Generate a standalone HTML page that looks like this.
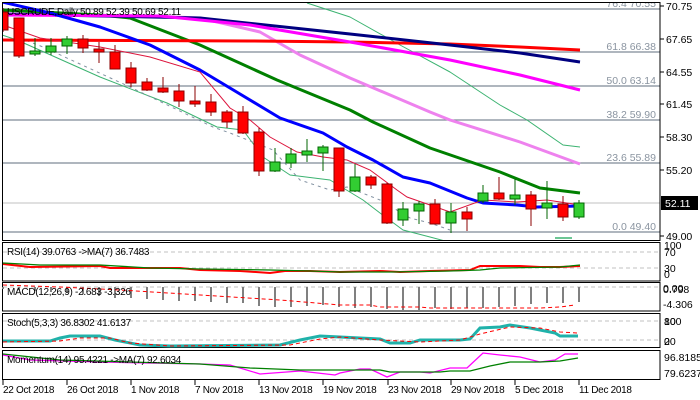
<!DOCTYPE html>
<html><head><meta charset="utf-8"><style>
body{margin:0;background:#fff}
svg{display:block;font-family:"Liberation Sans",sans-serif;font-size:10.5px}
.ax{fill:#000}
.fib{fill:#8a94a0;text-anchor:end}
.pl{font-size:10px;letter-spacing:-0.3px}
</style></head><body>
<svg width="700" height="400" viewBox="0 0 700 400" xmlns="http://www.w3.org/2000/svg">
<defs>
<clipPath id="cm"><rect x="2" y="2" width="658" height="238"/></clipPath>
<clipPath id="cl"><rect x="2" y="241" width="658" height="140"/></clipPath>
</defs>
<rect width="700" height="400" fill="#fff"/>
<g clip-path="url(#cm)">
<g stroke="#7f8b96" stroke-width="1.2">
<line x1="2" y1="9" x2="660" y2="9"/><line x1="2" y1="52" x2="660" y2="52"/>
<line x1="2" y1="86" x2="660" y2="86"/><line x1="2" y1="120" x2="660" y2="120"/>
<line x1="2" y1="163" x2="660" y2="163"/><line x1="2" y1="232" x2="660" y2="232"/>
</g>
<line x1="2" y1="203" x2="660" y2="203" stroke="#c0c0c0"/>
<g class="fib">
<text x="656" y="7">76.4 70.55</text><text x="656" y="50">61.8 66.38</text>
<text x="656" y="84">50.0 63.14</text><text x="656" y="118">38.2 59.90</text>
<text x="656" y="161">23.6 55.89</text><text x="656" y="230">0.0 49.40</text>
</g>
<g fill="none" stroke-linejoin="round">
<polyline stroke="#3cb371" points="307,3 350,17 400,45 450,72 500,105 527,120 563,145 580,147"/>
<polyline stroke="#3cb371" points="2,35 17,40 100,77 167,103 217,127 243,130 263,157 290,175 330,180 363,200 380,213 403,230 430,237 460,245"/>
<line x1="555" y1="238" x2="572" y2="238" stroke="#3cb371" stroke-width="1.5"/>
<polyline stroke="#8090a0" stroke-dasharray="3,4" points="20,38 43,47 130,87 213,127 230,133 273,150 300,180 330,190 347,187 380,200 410,218 430,223 450,230"/>
<polyline stroke="#ee82ee" stroke-width="3" points="2,14 150,16 200,18 260,32 300,55 350,78 430,112 450,120 520,142 580,164"/>
<polyline stroke="#008000" stroke-width="3" points="2,10 100,15 130,18 200,45 277,80 350,110 373,122 430,148 500,172 540,188 580,193"/>
<polyline stroke="#ff0000" stroke-width="3" points="2,40 250,41 350,42 450,44 520,47 580,50"/>
<polyline stroke="#000080" stroke-width="3" points="2,14 200,18 350,34 450,45 520,53 580,62"/>
<polyline stroke="#ff00ff" stroke-width="3" points="2,15 160,16 250,25 350,42 450,60 520,75 580,90"/>
<polyline stroke="#0000ff" stroke-width="3" points="2,2 50,13 100,27 150,45 200,70 230,88 280,118 323,133 347,147 373,160 403,177 430,183 467,198 483,203 517,205 537,207 580,206"/>
</g>
<polyline fill="none" stroke="#dc143c" points="3,25 40,38 100,47 150,57 200,72 230,108 250,120 270,137 297,152 323,157 347,160 370,170 397,190 407,197 430,205 450,212 483,200 517,202 547,200 580,205"/>
<g stroke-width="1">
<g stroke="#8b0000" fill="#ff0000">
<line x1="3" y1="8" x2="3" y2="32"/><rect x="-2" y="12" width="10" height="18"/>
<line x1="19" y1="18" x2="19" y2="58"/><rect x="14" y="18" width="10" height="38"/>
<line x1="83" y1="35" x2="83" y2="53"/><rect x="78" y="39" width="10" height="9"/>
<line x1="99" y1="42" x2="99" y2="63"/><rect x="94" y="49" width="10" height="3"/>
<line x1="115" y1="45" x2="115" y2="69"/><rect x="110" y="52" width="10" height="17"/>
<line x1="131" y1="62" x2="131" y2="87"/><rect x="126" y="68" width="10" height="15"/>
<line x1="147" y1="78" x2="147" y2="91"/><rect x="142" y="82" width="10" height="8"/>
<line x1="163" y1="77" x2="163" y2="93"/><rect x="158" y="88" width="10" height="4"/>
<line x1="179" y1="84" x2="179" y2="107"/><rect x="174" y="91" width="10" height="10"/>
<line x1="195" y1="86" x2="195" y2="107"/><rect x="190" y="101" width="10" height="3"/>
<line x1="211" y1="94" x2="211" y2="116"/><rect x="206" y="102" width="10" height="10"/>
<line x1="227" y1="110" x2="227" y2="128"/><rect x="222" y="112" width="10" height="10"/>
<line x1="243" y1="106" x2="243" y2="134"/><rect x="238" y="112" width="10" height="21"/>
<line x1="259" y1="128" x2="259" y2="176"/><rect x="254" y="132" width="10" height="39"/>
<line x1="339" y1="148" x2="339" y2="197"/><rect x="334" y="148" width="10" height="43"/>
<line x1="371" y1="175" x2="371" y2="189"/><rect x="366" y="177" width="10" height="8"/>
<line x1="387" y1="183" x2="387" y2="224"/><rect x="382" y="184" width="10" height="39"/>
<line x1="435" y1="199" x2="435" y2="224"/><rect x="430" y="204" width="10" height="20"/>
<line x1="467" y1="207" x2="467" y2="231"/><rect x="462" y="212" width="10" height="7"/>
<line x1="499" y1="177" x2="499" y2="200"/><rect x="494" y="193" width="10" height="6"/>
<line x1="531" y1="191" x2="531" y2="226"/><rect x="526" y="195" width="10" height="14"/>
<line x1="563" y1="196" x2="563" y2="221"/><rect x="558" y="204" width="10" height="13"/>
</g>
<g stroke="#006400" fill="#32cd32">
<line x1="35" y1="38" x2="35" y2="56"/><rect x="30" y="51" width="10" height="3"/>
<line x1="51" y1="38" x2="51" y2="55"/><rect x="46" y="46" width="10" height="6"/>
<line x1="67" y1="36" x2="67" y2="54"/><rect x="62" y="39" width="10" height="7"/>
<line x1="275" y1="148" x2="275" y2="172"/><rect x="270" y="162" width="10" height="9"/>
<line x1="291" y1="148" x2="291" y2="168"/><rect x="286" y="154" width="10" height="9"/>
<line x1="307" y1="139" x2="307" y2="162"/><rect x="302" y="151" width="10" height="4"/>
<line x1="323" y1="145" x2="323" y2="171"/><rect x="318" y="147" width="10" height="6"/>
<line x1="355" y1="164" x2="355" y2="192"/><rect x="350" y="177" width="10" height="14"/>
<line x1="403" y1="202" x2="403" y2="226"/><rect x="398" y="209" width="10" height="11"/>
<line x1="419" y1="201" x2="419" y2="224"/><rect x="414" y="204" width="10" height="7"/>
<line x1="451" y1="203" x2="451" y2="233"/><rect x="446" y="212" width="10" height="11"/>
<line x1="483" y1="185" x2="483" y2="203"/><rect x="478" y="193" width="10" height="8"/>
<line x1="515" y1="179" x2="515" y2="205"/><rect x="510" y="195" width="10" height="4"/>
<line x1="547" y1="181" x2="547" y2="219"/><rect x="542" y="203" width="10" height="5"/>
<line x1="579" y1="200" x2="579" y2="219"/><rect x="574" y="203" width="10" height="14"/>
</g>
</g>
<text x="7" y="15" fill="#000" class="pl">USCRUDE,Daily  50.89 52.39 50.69 52.11</text>
</g>
<g fill="none" stroke="#000">
<rect x="2.5" y="2.5" width="657.5" height="238"/>
<rect x="2.5" y="242.5" width="657.5" height="38.5"/>
<rect x="2.5" y="282.5" width="657.5" height="28.5"/>
<rect x="2.5" y="313.5" width="657.5" height="34"/>
<rect x="2.5" y="350.5" width="657.5" height="29"/>
</g>
<g clip-path="url(#cl)" fill="none">
<g stroke="#c0c0c0" stroke-dasharray="4,3"><line x1="3" y1="252" x2="660" y2="252"/><line x1="3" y1="268" x2="660" y2="268"/>
<line x1="3" y1="287" x2="660" y2="287"/><line x1="3" y1="321" x2="660" y2="321"/><line x1="3" y1="340" x2="660" y2="340"/></g>
<polyline stroke="#ff0000" stroke-width="2" points="3,264 30,267 100,266 110,268 180,268 200,270 240,271 270,273 285,271 310,271 340,272 380,271 400,272 430,271 470,270 480,266 520,266 540,267 560,267 580,266"/>
<polyline stroke="#008000" stroke-width="1.3" points="3,263 40,265 100,265 150,268 200,269 270,270 310,271 340,272 390,272 450,271 480,270 500,268 560,267 580,265"/>
<g stroke="#808080" stroke-width="2">
<line x1="3" y1="287" x2="3" y2="289"/><line x1="19" y1="287" x2="19" y2="290"/><line x1="35" y1="287" x2="35" y2="291"/><line x1="51" y1="287" x2="51" y2="292"/><line x1="67" y1="287" x2="67" y2="293"/><line x1="83" y1="287" x2="83" y2="294"/><line x1="99" y1="287" x2="99" y2="296"/>
<line x1="115" y1="287" x2="115" y2="298"/><line x1="131" y1="287" x2="131" y2="298"/><line x1="147" y1="287" x2="147" y2="299"/><line x1="163" y1="287" x2="163" y2="300"/><line x1="179" y1="287" x2="179" y2="301"/><line x1="195" y1="287" x2="195" y2="301"/><line x1="211" y1="287" x2="211" y2="302"/><line x1="227" y1="287" x2="227" y2="303"/><line x1="243" y1="287" x2="243" y2="303"/><line x1="259" y1="287" x2="259" y2="306"/><line x1="275" y1="287" x2="275" y2="307"/><line x1="291" y1="287" x2="291" y2="307"/><line x1="307" y1="287" x2="307" y2="306"/><line x1="323" y1="287" x2="323" y2="305"/><line x1="339" y1="287" x2="339" y2="307"/>
<line x1="355" y1="287" x2="355" y2="308"/><line x1="371" y1="287" x2="371" y2="307"/><line x1="387" y1="287" x2="387" y2="309"/><line x1="403" y1="287" x2="403" y2="310"/><line x1="419" y1="287" x2="419" y2="310"/><line x1="435" y1="287" x2="435" y2="308"/><line x1="451" y1="287" x2="451" y2="309"/><line x1="467" y1="287" x2="467" y2="308"/><line x1="483" y1="287" x2="483" y2="308"/><line x1="499" y1="287" x2="499" y2="307"/><line x1="515" y1="287" x2="515" y2="306"/><line x1="531" y1="287" x2="531" y2="304"/><line x1="547" y1="287" x2="547" y2="303"/><line x1="563" y1="287" x2="563" y2="303"/><line x1="579" y1="287" x2="579" y2="302"/>
</g>
<polyline stroke="#ff0000" stroke-dasharray="4,3" points="3,285 60,287 120,290 200,295 280,300 340,305 370,305 380,307 420,307 430,308 540,308 560,307 575,305"/>
<polyline stroke="#20b2aa" stroke-width="3" points="3,341 50,341 60,338 70,336 100,336 115,340 140,345 170,346 280,345 300,340 320,336 340,337 380,339 390,343 410,343 420,340 460,340 470,339 480,328 500,327 510,325 530,328 540,330 555,333 560,336 578,336"/>
<polyline stroke="#ff0000" stroke-dasharray="4,3" points="3,342 60,341 80,338 110,338 130,343 170,346 290,345 320,339 340,337 380,340 420,342 460,340 480,334 510,327 540,328 560,332 578,333"/>
<polyline stroke="#ff00ff" stroke-width="1.3" points="3,355 30,360 100,362 200,364 230,365 240,368 260,374 300,371 335,375 340,373 360,369 370,369 387,377 400,372 420,372 430,373 450,368 467,368 483,353 500,355 520,357 540,362 555,360 565,354 578,354"/>
<polyline stroke="#008000" stroke-width="1.3" points="3,354 60,360 130,362 200,364 250,368 300,370 340,370 380,370 390,372 440,372 450,371 470,371 490,366 510,362 540,362 560,361 578,358"/>
</g>
<g fill="#000" class="pl">
<text x="7" y="255">RSI(14) 39.0763  -&gt;MA(7) 36.7483</text>
<text x="7" y="295">MACD(12,26,9) -2.683 -3.326</text>
<text x="7" y="326">Stoch(5,3,3) 36.8302 41.6137</text>
<text x="7" y="363">Momentum(14) 95.4221  -&gt;MA(7) 92.6034</text>
</g>
<g class="ax">
<g stroke="#000"><line x1="660" y1="6" x2="664" y2="6"/><line x1="660" y1="39" x2="664" y2="39"/><line x1="660" y1="72" x2="664" y2="72"/><line x1="660" y1="104" x2="664" y2="104"/><line x1="660" y1="137" x2="664" y2="137"/><line x1="660" y1="170" x2="664" y2="170"/><line x1="660" y1="236" x2="664" y2="236"/></g>
<text x="666" y="10">70.75</text><text x="666" y="43">67.65</text><text x="666" y="76">64.55</text><text x="666" y="108">61.45</text><text x="666" y="141">58.30</text><text x="666" y="174">55.20</text><text x="666" y="240">49.00</text>
<rect x="661" y="196" width="37" height="14" fill="#000"/><text x="665" y="207" fill="#fff">52.11</text>
<text x="664" y="249">100</text><text x="664" y="256">70</text><text x="664" y="272">30</text><text x="664" y="278">0</text>
<text x="663" y="292">0.00</text><text x="663" y="293">0.798</text><text x="663" y="308">-4.306</text>
<text x="664" y="325">100</text><text x="664" y="325">80</text><text x="664" y="345">20</text><text x="664" y="345">0</text>
<text x="664" y="361">96.8185</text><text x="664" y="377">79.6237</text>
</g>
<g stroke="#000"><line x1="3" y1="380" x2="3" y2="385"/><line x1="67" y1="380" x2="67" y2="385"/><line x1="131" y1="380" x2="131" y2="385"/><line x1="195" y1="380" x2="195" y2="385"/><line x1="259" y1="380" x2="259" y2="385"/><line x1="323" y1="380" x2="323" y2="385"/><line x1="388" y1="380" x2="388" y2="385"/><line x1="451" y1="380" x2="451" y2="385"/><line x1="515" y1="380" x2="515" y2="385"/><line x1="579" y1="380" x2="579" y2="385"/></g>
<g fill="#000" class="pl">
<text x="3" y="393">22 Oct 2018</text><text x="67" y="393">26 Oct 2018</text><text x="131" y="393">1 Nov 2018</text><text x="195" y="393">7 Nov 2018</text><text x="259" y="393">13 Nov 2018</text><text x="323" y="393">19 Nov 2018</text><text x="388" y="393">23 Nov 2018</text><text x="451" y="393">29 Nov 2018</text><text x="515" y="393">5 Dec 2018</text><text x="579" y="393">11 Dec 2018</text>
</g>
</svg>
</body></html>
